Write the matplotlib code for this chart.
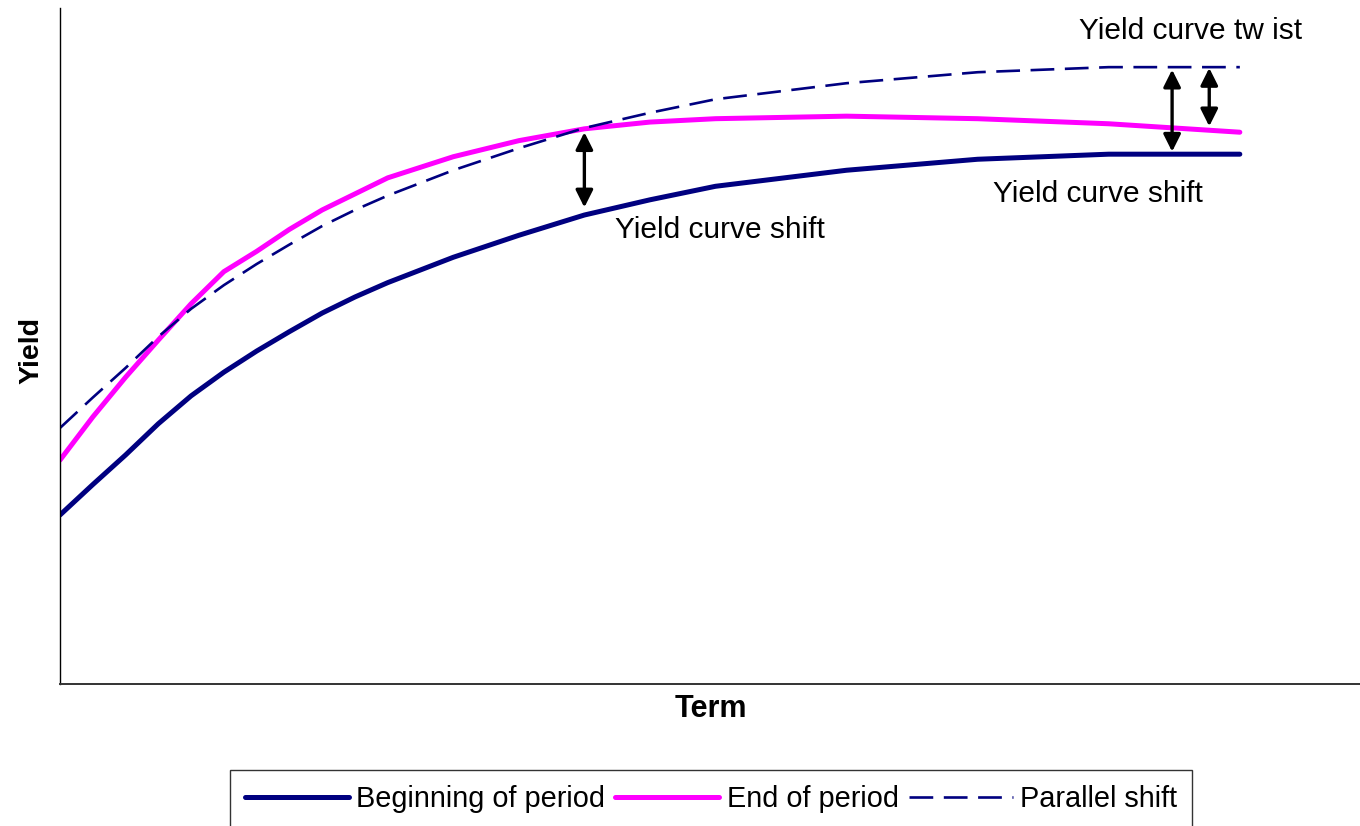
import matplotlib
matplotlib.use('Agg')
import matplotlib.pyplot as plt

plt.rcParams['font.family'] = ['Liberation Sans', 'DejaVu Sans']

# term in months
term = [0, 3, 6, 9, 12, 15, 18, 21, 24, 27, 30, 36, 42, 48, 54, 60, 72, 84, 96, 108]

beginning = [2.00, 2.36, 2.71, 3.08, 3.41, 3.69, 3.94, 4.17, 4.39, 4.58,
             4.75, 5.05, 5.31, 5.55, 5.73, 5.89, 6.08, 6.21, 6.27, 6.27]
end = [2.65, 3.16, 3.63, 4.07, 4.50, 4.88, 5.12, 5.38, 5.61, 5.80,
       5.99, 6.24, 6.43, 6.57, 6.65, 6.69, 6.72, 6.69, 6.63, 6.53]
parallel = [3.03, 3.39, 3.74, 4.11, 4.44, 4.72, 4.97, 5.20, 5.42, 5.61,
            5.78, 6.08, 6.34, 6.58, 6.76, 6.92, 7.11, 7.24, 7.30, 7.30]

# double arrows: (x, top, bottom)
arrows = [(48.0, 6.53, 5.64), (101.8, 7.27, 6.30), (105.2, 7.29, 6.60)]

labels = [(50.8, 5.37, 'Yield curve shift'),
          (85.4, 5.80, 'Yield curve shift'),
          (93.3, 7.73, 'Yield curve tw ist')]

W, H = 1360, 826
fig = plt.figure(figsize=(W / 100, H / 100), dpi=100)
ax = fig.add_axes([60 / W, (H - 684) / H, 1300 / W, 676 / H])

ax.plot(term, beginning, color='#000080', lw=3.6, solid_capstyle='round',
        label='Beginning of period')
ax.plot(term, end, color='#FF00FF', lw=3.6, solid_capstyle='round',
        label='End of period')
ax.plot(term, parallel, color='#000080', lw=1.9, dashes=(9, 4),
        label='Parallel shift')

for x, top, bot in arrows:
    ax.annotate('', xy=(x, top), xytext=(x, bot),
                arrowprops=dict(arrowstyle='<|-|>', color='black', lw=2.4,
                                mutation_scale=26, shrinkA=0, shrinkB=0))

for x, y, s in labels:
    ax.text(x, y, s, fontsize=21.5, ha='left', va='center')

ax.set_xlim(0, 119)
ax.set_ylim(0, 8)
ax.set_xticks([])
ax.set_yticks([])
for side in ['top', 'right']:
    ax.spines[side].set_visible(False)
ax.spines['left'].set_linewidth(1.0)
ax.spines['bottom'].set_linewidth(1.4)
ax.spines['bottom'].set_color('#333333')

fig.text(31 / W, 1 - 350 / H, 'Yield', rotation=90, fontsize=20.5,
         fontweight='bold', ha='center', va='center')
fig.text(711 / W, 1 - 709 / H, 'Term', fontsize=22, fontweight='bold',
         ha='center', va='center')

leg = fig.legend(loc='upper center', bbox_to_anchor=(711 / W, 1 - 770 / H),
                 ncol=3, fontsize=20.8, frameon=True, fancybox=False,
                 edgecolor='black', handlelength=3.6, handletextpad=0.25,
                 columnspacing=0.35, borderpad=0.52, borderaxespad=0)
leg.get_frame().set_linewidth(1.0)

fig.savefig('out.png', dpi=100)
